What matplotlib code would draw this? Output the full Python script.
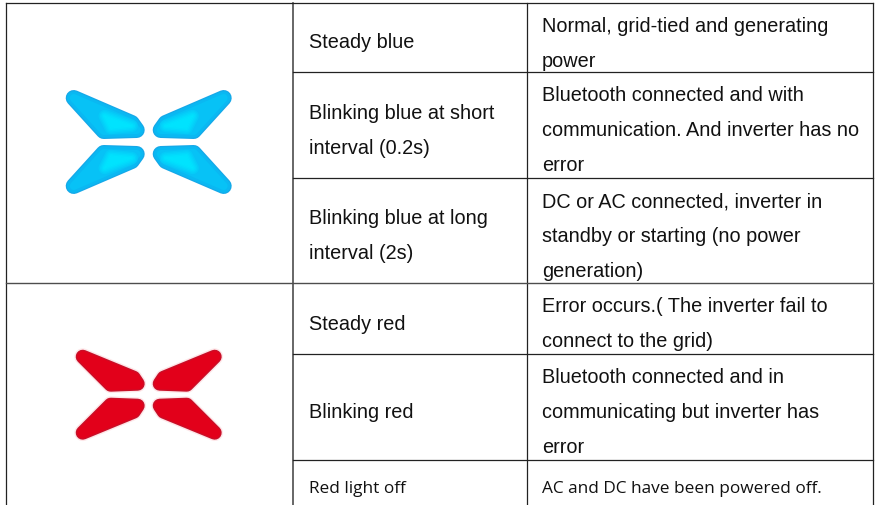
from matplotlib import pyplot as plt
from matplotlib.patches import Polygon

W, H = 876, 505

states = [["Steady blue"],
          ["Blinking blue at short", "interval (0.2s)"],
          ["Blinking blue at long", "interval (2s)"],
          ["Steady red"],
          ["Blinking red"],
          ["Red light off"]]
meanings = [["Normal, grid-tied and generating", "power"],
            ["Bluetooth connected and with", "communication. And inverter has no", "error"],
            ["DC or AC connected, inverter in", "standby or starting (no power", "generation)"],
            ["Error occurs.( The inverter fail to", "connect to the grid)"],
            ["Bluetooth connected and in", "communicating but inverter has", "error"],
            ["AC and DC have been powered off."]]

# baseline of first line in each cell (pixels from top)
state_base = [48, 119, 224, 330, 418, 493]
meaning_base = [32, 101, 207, 312, 383, 493]
step = 35
row_lines = [72, 178, 354, 460]
split_line = 283

fig = plt.figure(figsize=(W / 100, H / 100), dpi=100)
ax = fig.add_axes([0, 0, 1, 1])
ax.set_xlim(0, W)
ax.set_ylim(H, 0)
ax.axis("off")

dark = "#222222"
grey = "#4d4d4d"
ax.plot([6, 6], [3, H], color=dark, lw=0.9)
ax.plot([293, 293], [3, H], color=grey, lw=1.2)
ax.plot([527, 527], [3, H], color=dark, lw=0.9)
ax.plot([873, 873], [3, H], color=dark, lw=0.9)
ax.plot([6, 873], [3, 3], color=dark, lw=0.9)
ax.plot([6, 873], [split_line, split_line], color=grey, lw=1.0)
for y in row_lines:
    ax.plot([293, 873], [y, y], color=dark, lw=0.9)


# one petal is a polygon with a thick round stroke, stacked strokes fake the glow
def light(cx, cy, shape, r, colours, core=None, core_layers=()):
    for sx in (-1, 1):
        for sy in (-1, 1):
            pts = [(cx + sx * a, cy + sy * b) for a, b in shape]
            for frac, c in colours:
                ax.add_patch(Polygon(pts, closed=True, facecolor=c, edgecolor=c,
                                     lw=2 * r * frac * 0.72, joinstyle="round"))
            if core:
                pts = [(cx + sx * a, cy + sy * b) for a, b in core]
                for w, c in core_layers:
                    ax.add_patch(Polygon(pts, closed=True, facecolor=c, edgecolor=c,
                                         lw=w, joinstyle="round"))


light(148.7, 142, [(75, 44), (17, 19), (12, 12), (45, 11)], 8,
      [(1.0, "#16a8e8"), (0.85, "#0ab8f2"), (0.5, "#07c2f6")],
      [(44, 26), (17, 16), (38, 14)],
      [(9, "#05cbf8"), (7, "#04d2fa"), (5, "#02d9fc"), (3, "#01dffd"), (1, "#00e3fe")])
light(148.7, 394.7, [(66, 38), (15, 17), (11, 11), (38, 10)], 7,
      [(1.2, "#fde6e8"), (1.0, "#c90f28"), (0.8, "#e2001a")])

for i in range(len(states)):
    if i == 5:
        font = dict(family="Open Sans", fontsize=12.4)
    else:
        font = dict(family="Liberation Sans", fontsize=14.3)
    for k, s in enumerate(states[i]):
        ax.text(309, state_base[i] + k * step, s, va="baseline", color="#111111", **font)
    for k, s in enumerate(meanings[i]):
        ax.text(542, meaning_base[i] + k * step, s, va="baseline", color="#111111", **font)

plt.savefig("out.png", dpi=100)
